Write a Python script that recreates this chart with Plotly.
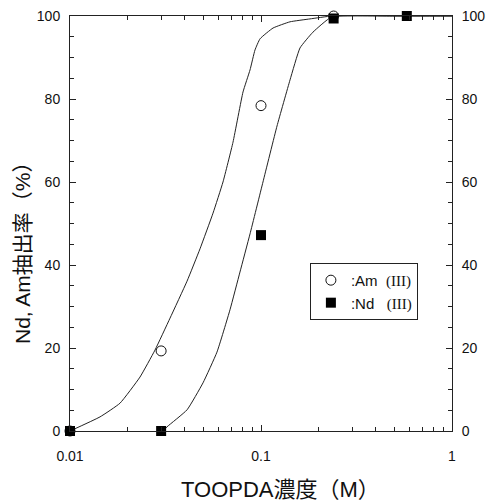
import plotly.graph_objects as go

# Measured extraction data
am_conc = [0.01, 0.03, 0.1, 0.24]
am_pct = [0, 19.3, 78.4, 100]
nd_conc = [0.01, 0.03, 0.1, 0.24, 0.58]
nd_pct = [0, 0, 47.2, 99.4, 100]

# Fitted curves
am_fit_conc = [0.01, 0.01436, 0.01827, 0.02325, 0.02786, 0.0334, 0.04099, 0.04793,
               0.05608, 0.06324, 0.07136, 0.08051, 0.0876, 0.093, 0.0988, 0.1156,
               0.1419, 0.1805, 0.2353, 0.5, 1.0]
am_fit_pct = [0, 3.4, 6.7, 13.0, 19.5, 27.2, 36.1, 43.9,
              52.5, 60.0, 69.6, 81.7, 87.0, 91.8, 94.5, 97.1,
              98.6, 99.3, 100, 100, 100]
nd_fit_conc = [0.0307, 0.0322, 0.041, 0.0497, 0.0588, 0.0688, 0.0776, 0.0876,
               0.1024, 0.1213, 0.1419, 0.16, 0.187, 0.235, 0.5, 1.0]
nd_fit_pct = [0, 1.0, 5.1, 11.6, 19.0, 29.2, 38.3, 47.5,
              60.0, 73.5, 84.6, 92.3, 96.1, 99.8, 100, 100]

x_ticks = [0.01, 0.1, 1]
x_ticktext = ["0.01", "0.1", "1"]
x_minor = [0.02, 0.03, 0.04, 0.05, 0.06, 0.07, 0.08, 0.09,
           0.2, 0.3, 0.4, 0.5, 0.6, 0.7, 0.8, 0.9]
y_ticks = [0, 20, 40, 60, 80, 100]

font_main = "Liberation Sans, Arial, Noto Sans CJK JP, sans-serif"
roman = "Liberation Serif, Times New Roman, serif"

fig = go.Figure()

for xs, ys in ((am_fit_conc, am_fit_pct), (nd_fit_conc, nd_fit_pct)):
    fig.add_trace(go.Scatter(x=xs, y=ys, mode="lines",
                             line=dict(color="#222", width=1, shape="spline", smoothing=0.4),
                             showlegend=False, hoverinfo="skip"))

fig.add_trace(go.Scatter(
    x=am_conc, y=am_pct, mode="markers", cliponaxis=False,
    marker=dict(symbol="circle-open", size=10, color="#111", line=dict(width=1)),
    name=":Am\u00a0\u00a0<span style='font-family:%s'>(III)</span>" % roman))
fig.add_trace(go.Scatter(
    x=nd_conc, y=nd_pct, mode="markers", cliponaxis=False,
    marker=dict(symbol="square", size=10, color="#000"),
    name=":Nd\u00a0\u00a0\u00a0<span style='font-family:%s'>(III)</span>" % roman))

# right-hand duplicate scale
fig.add_trace(go.Scatter(x=[0.01], y=[0], yaxis="y2", mode="markers",
                         marker=dict(opacity=0), showlegend=False, hoverinfo="skip"))

axis_common = dict(
    ticks="inside", ticklen=6, tickcolor="#222",
    showline=True, linecolor="#222", linewidth=1, automargin=False,
    showgrid=False, zeroline=False, tickfont=dict(size=14),
)

fig.update_layout(
    width=486, height=502,
    margin=dict(l=70, r=34, t=16, b=71),
    plot_bgcolor="white", paper_bgcolor="white",
    font=dict(family=font_main, size=14, color="#111"),
    xaxis=dict(
        type="log", range=[-2, 0],
        tickvals=x_ticks, ticktext=x_ticktext,
        minor=dict(tickvals=x_minor, ticks="inside", ticklen=4, tickcolor="#222", showgrid=False),
        mirror="ticks", ticklabelstandoff=12,
        **axis_common,
    ),
    yaxis=dict(
        range=[0, 100], tickvals=y_ticks,
        minor=dict(dtick=5, ticks="inside", ticklen=4, tickcolor="#222", showgrid=False),
        ticklabelstandoff=6,
        **axis_common,
    ),
    yaxis2=dict(
        range=[0, 100], tickvals=y_ticks, overlaying="y", side="right",
        minor=dict(dtick=5, ticks="inside", ticklen=4, tickcolor="#222", showgrid=False),
        ticklabelstandoff=6,
        **axis_common,
    ),
    legend=dict(
        x=0.628, y=0.405, xanchor="left", yanchor="top",
        bgcolor="white", bordercolor="#222", borderwidth=1,
        font=dict(size=15), tracegroupgap=4, itemwidth=30,
    ),
    annotations=[
        dict(text="TOOPDA濃度（M）", xref="paper", yref="paper",
             x=0.552, y=-0.142, xanchor="center", yanchor="middle",
             showarrow=False, font=dict(size=22)),
        dict(text="Nd, Am抽出率（%）", xref="paper", yref="paper",
             x=-0.126, y=0.443, xanchor="center", yanchor="middle",
             textangle=-90, showarrow=False, font=dict(size=21)),
    ],
)

fig.write_html("out.html")
